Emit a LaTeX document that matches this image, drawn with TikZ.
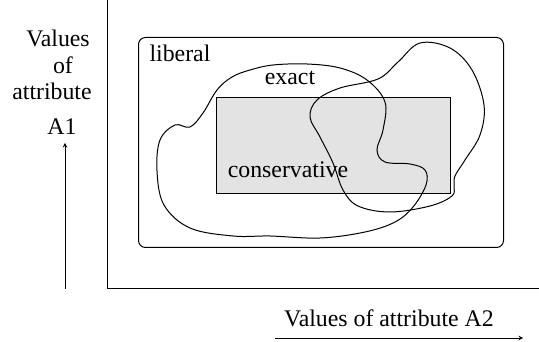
\documentclass[tikz,border=0pt]{standalone}
\usepackage{fontspec}
\setmainfont{Liberation Serif}
\begin{document}
\begin{tikzpicture}[x=1pt,y=-1pt,
  ln/.style={line width=1.0pt},
  lbl/.style={font=\fontsize{23.8}{26}\selectfont, inner sep=0pt},
  >=stealth]
\useasboundingbox (0,0) rectangle (539,342);
% axes
\coordinate (o) at (107,289);
\coordinate (ytop) at (107,0);
\coordinate (xend) at (539,289);
\draw[ln] (ytop) -- (o) -- (xend);
% liberal box
\node[ln, draw, rounded corners=7pt, minimum width=365pt, minimum height=210pt, anchor=north west, inner sep=0pt] (lib) at (138,37) {};
% conservative
\node[ln, draw, fill=black!11, minimum width=234pt, minimum height=96pt, anchor=north west, inner sep=0pt] (cons) at (216,97) {};
% curve A (exact)
\draw[ln] plot[smooth cycle, tension=0.6] coordinates {
(157,171) (160,140) (175,125) (190,127) (203,113) (217,90) (232,77) (250,70) (273,65) (307,64) (340,68) (367,80) (385,102) (383,130) (377,150) (385,162) (410,164) (425,170) (426,185) (413,207) (395,222) (365,232) (320,238) (270,236) (233,236) (190,228) (164,205)};
% curve B
\draw[ln] plot[smooth cycle, tension=0.6] coordinates {
(420,43) (450,48) (472,70) (484,105) (480,135) (465,160) (455,176) (454,186) (452,196) (430,206) (390,212) (358,206) (343,190) (333,163) (320,137) (310,117) (317,100) (340,88) (378,79) (398,62)};
% labels
\node[lbl] (t1) at (58,38) {Values};
\node[lbl] (t2) at (63,65) {of};
\node[lbl] (t3) at (52,91) {attribute};
\node[lbl] (t4) at (62,127) {A1};
\node[lbl] (tl) at (180,53) {liberal};
\node[lbl] (te) at (290,78) {exact};
\node[lbl] (tc) at (288,170) {conservative};
\node[lbl] (tx) at (389,318) {Values of attribute A2};
% arrows
\coordinate (ya) at (65,289);
\coordinate (yb) at (65,143);
\draw[ln,->] (ya) -- (yb);
\coordinate (xa) at (275,338);
\coordinate (xb) at (523,338);
\draw[ln,->] (xa) -- (xb);
\end{tikzpicture}
\end{document}
